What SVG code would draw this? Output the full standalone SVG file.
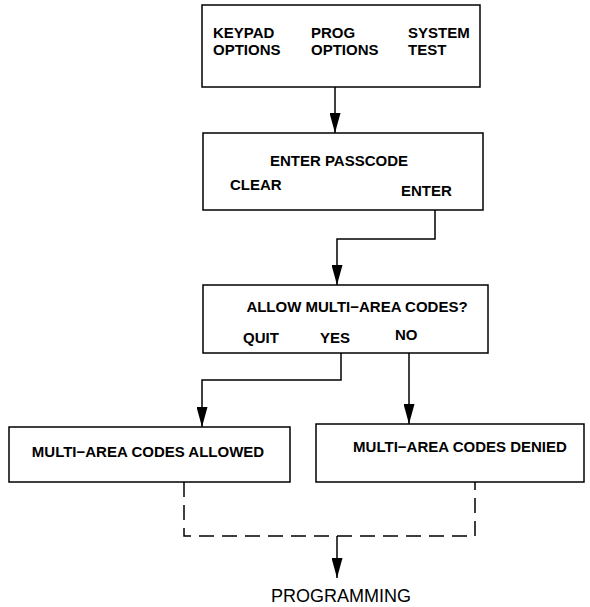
<svg xmlns="http://www.w3.org/2000/svg" width="590" height="607" viewBox="0 0 590 607">
<style>
.box{fill:#fff;stroke:#000;stroke-width:1.5}
.t{font-family:"Liberation Sans",Arial,sans-serif;font-size:15px;font-weight:bold;fill:#000}
.m{text-anchor:middle}
.big{font-size:18px;font-weight:normal}
.c{fill:none;stroke:#000;stroke-width:1.5}
.d{fill:none;stroke:#000;stroke-width:1.5;stroke-dasharray:15 8}
</style>
<defs>
<marker id="ah" viewBox="0 0 20 11" refX="20" refY="5.5" markerWidth="20" markerHeight="11" markerUnits="userSpaceOnUse" orient="auto">
<path d="M0,0 L20,5.5 L0,11 z" fill="#000"/>
</marker>
</defs>
<rect width="590" height="607" fill="#fff"/>
<g id="connectors">
<path class="c" d="M335,87 V133" marker-end="url(#ah)"/>
<path class="c" d="M435,210 V239 H337 V285" marker-end="url(#ah)"/>
<path class="c" d="M341,353 V380 H202 V427" marker-end="url(#ah)"/>
<path class="c" d="M409,353 V424" marker-end="url(#ah)"/>
<path class="d" d="M184,482 V536 H475 V482"/>
<path class="c" d="M337,536 V578" marker-end="url(#ah)"/>
</g>
<g id="menu">
<rect class="box" x="202" y="5" width="278" height="82"/>
<text class="t" x="213" y="38">KEYPAD</text>
<text class="t" x="213" y="55">OPTIONS</text>
<text class="t" x="311" y="38">PROG</text>
<text class="t" x="311" y="55">OPTIONS</text>
<text class="t" x="408" y="38">SYSTEM</text>
<text class="t" x="408" y="55">TEST</text>
</g>
<g id="passcode">
<rect class="box" x="203" y="133" width="280" height="77"/>
<text class="t m" x="339" y="166">ENTER PASSCODE</text>
<text class="t" x="230" y="190">CLEAR</text>
<text class="t" x="401" y="196">ENTER</text>
</g>
<g id="allow">
<rect class="box" x="203" y="285" width="285" height="68"/>
<text class="t m" x="357" y="312">ALLOW MULTI−AREA CODES?</text>
<text class="t" x="243" y="343">QUIT</text>
<text class="t" x="320" y="343">YES</text>
<text class="t" x="395" y="340">NO</text>
</g>
<g id="allowed">
<rect class="box" x="9" y="427" width="281" height="55"/>
<text class="t m" x="148" y="457">MULTI−AREA CODES ALLOWED</text>
</g>
<g id="denied">
<rect class="box" x="316" y="424" width="268" height="58"/>
<text class="t m" x="460" y="452">MULTI−AREA CODES DENIED</text>
</g>
<g id="programming">
<text class="t m big" x="341" y="602">PROGRAMMING</text>
</g>
</svg>
